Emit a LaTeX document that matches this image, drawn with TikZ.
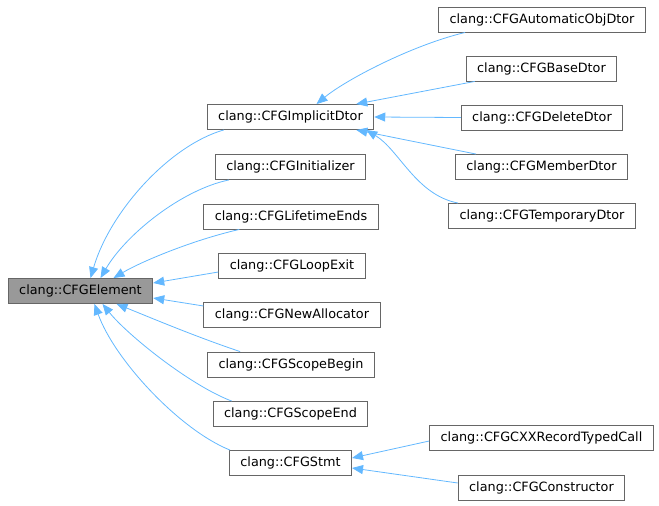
\documentclass[tikz,border=0pt]{standalone}
\usepackage{fontspec}
\setmainfont{DejaVu Sans}
\usetikzlibrary{arrows.meta,calc}
\definecolor{edgeblue}{HTML}{63B8FF}
\definecolor{boxgray}{HTML}{666666}
\tikzset{
  cls/.style={draw=boxgray,fill=white,line width=0.9pt,inner xsep=11pt,inner ysep=0pt,
    minimum height=25pt,font=\fontsize{12.8}{15}\selectfont},
  base/.style={cls,fill=black!40},
  inh/.style={draw=edgeblue,line width=0.8pt,-{Triangle[length=11pt,width=9pt,fill=edgeblue]}}
}
\begin{document}
\begin{tikzpicture}[x=1pt,y=-1pt]
\useasboundingbox (0,0) rectangle (659,506);

\node[base] (elem) at (80.5,291) {clang::CFGElement};
\node[cls] (impl) at (290.5,117) {clang::CFGImplicitDtor};
\node[cls] (init) at (290.5,167) {clang::CFGInitializer};
\node[cls] (life) at (291,216.5) {clang::CFGLifetimeEnds};
\node[cls] (loop) at (292,265.5) {clang::CFGLoopExit};
\node[cls] (newa) at (292,314.5) {clang::CFGNewAllocator};
\node[cls] (sbegin) at (291,364.5) {clang::CFGScopeBegin};
\node[cls] (send) at (290.5,414) {clang::CFGScopeEnd};
\node[cls] (stmt) at (290.5,463) {clang::CFGStmt};
\node[cls] (auto) at (542,19.5) {clang::CFGAutomaticObjDtor};
\node[cls] (bdtor) at (541.5,68.5) {clang::CFGBaseDtor};
\node[cls] (del) at (542,117.5) {clang::CFGDeleteDtor};
\node[cls] (member) at (541.5,167) {clang::CFGMemberDtor};
\node[cls] (temp) at (542,216) {clang::CFGTemporaryDtor};
\node[cls] (cxx) at (541.5,437.5) {clang::CFGCXXRecordTypedCall};
\node[cls] (ctor) at (541.5,487.5) {clang::CFGConstructor};

\draw[inh] ($(impl.south west)+(17,0)$) .. controls +(-53,15) and +(20,-68) .. ($(elem.north)+(10,0)$);
\draw[inh] ($(init.south west)+(14,0)$) .. controls +(-48,10) and +(25,-43) .. ($(elem.north)+(20,0)$);
\draw[inh] ($(life.south west)+(36,0)$) .. controls +(-48,11) and +(27,-16) .. ($(elem.north)+(33,0)$);
\draw[inh] ($(loop.west)+(0,6.5)$) -- ($(elem.east)+(0,-8)$);
\draw[inh] ($(newa.west)+(0,-8.5)$) -- ($(elem.east)+(0,7)$);
\draw[inh] ($(sbegin.north west)+(33,0)$) .. controls +(-45,-15) and +(30,12) .. ($(elem.south)+(36,0)$);
\draw[inh] ($(send.north west)+(19,0)$) .. controls +(-42,-16) and +(25,31) .. ($(elem.south)+(22,0)$);
\draw[inh] ($(stmt.north west)+(1,0)$) .. controls +(-50,-20) and +(20,56) .. ($(elem.south)+(14,0)$);

\draw[inh] ($(auto.south west)+(27,0)$) .. controls +(-54,13) and +(29,-24) .. ($(impl.north)+(26,0)$);
\draw[inh] ($(bdtor.south west)+(9,0)$) -- ($(impl.north east)+(-18,0)$);
\draw[inh] (del.west) -- (impl.east);
\draw[inh] ($(member.north west)+(21,0)$) -- ($(impl.south east)+(-18,0)$);
\draw[inh] ($(temp.north west)+(10,0)$) .. controls +(-42,-8) and +(33,20) .. ($(impl.south east)+(-8,0)$);

\draw[inh] ($(cxx.west)+(0,3.5)$) -- ($(stmt.east)+(0,-5)$);
\draw[inh] ($(ctor.west)+(0,-4.5)$) -- ($(stmt.east)+(0,5)$);
\end{tikzpicture}
\end{document}
